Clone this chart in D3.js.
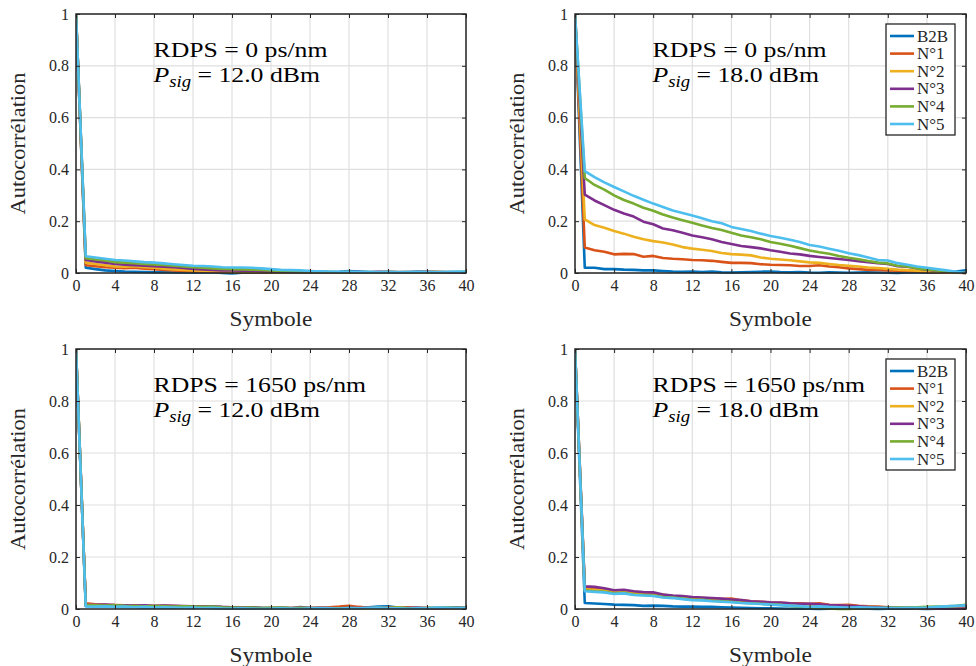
<!DOCTYPE html>
<html><head><meta charset="utf-8">
<script src="https://cdn.jsdelivr.net/npm/d3@7"></script>
<style>body{margin:0;background:#fff;} svg{display:block;}</style>
</head><body>
<script>
const lags = d3.range(0, 41);
const xTicks = [0,4,8,12,16,20,24,28,32,36,40];
const yTicks = [0,0.2,0.4,0.6,0.8,1];
const yTickLabels = ["0","0.2","0.4","0.6","0.8","1"];
const seriesNames = ["B2B","N°1","N°2","N°3","N°4","N°5"];
const seriesColors = ["#0072BD","#D95319","#EDB120","#7E2F8E","#77AC30","#4DBEEE"];
const xLabel = "Symbole";
const yLabel = "Autocorrélation";

// Panel 1: RDPS = 0 ps/nm, Psig = 12.0 dBm
const p1_B2B = [1,0.020,0.015,0.010,0.008,0.006,0.005,0.004,0.003,0.004,0.002,0.002,0.001,0.002,0.003,0.000,-0.002,0.001,0.002,0.001,0.002,0.001,0.003,0.002,0.004,0.003,0.003,0.005,0.008,0.006,0.004,0.003,0.002,0.003,0.002,0.005,0.004,0.003,0.002,0.003,0.004];
const p1_N1 = [1,0.030,0.026,0.022,0.020,0.019,0.020,0.017,0.015,0.012,0.010,0.008,0.006,0.006,0.005,0.004,0.003,0.004,0.003,0.002,0.002,0.003,0.004,0.005,0.008,0.006,0.004,0.003,0.004,0.002,0.003,0.004,0.005,0.004,0.003,0.004,0.006,0.005,0.004,0.003,0.002];
const p1_N2 = [1,0.040,0.035,0.030,0.025,0.024,0.026,0.022,0.020,0.017,0.014,0.012,0.010,0.009,0.008,0.007,0.005,0.005,0.004,0.004,0.003,0.002,0.003,0.003,0.002,0.003,0.002,0.001,0.002,0.003,0.002,0.003,0.004,0.003,0.002,0.003,0.004,0.003,0.002,0.001,0.002];
const p1_N3 = [1,0.050,0.045,0.040,0.035,0.032,0.030,0.028,0.026,0.024,0.022,0.019,0.016,0.014,0.012,0.010,0.010,0.009,0.009,0.007,0.006,0.005,0.004,0.004,0.003,0.004,0.003,0.002,0.003,0.004,0.003,0.005,0.004,0.003,0.004,0.005,0.004,0.003,0.002,0.003,0.002];
const p1_N4 = [1,0.057,0.052,0.048,0.042,0.040,0.038,0.035,0.033,0.031,0.028,0.025,0.022,0.020,0.018,0.016,0.015,0.014,0.013,0.012,0.010,0.008,0.007,0.006,0.005,0.004,0.004,0.003,0.004,0.003,0.004,0.003,0.004,0.003,0.004,0.004,0.003,0.004,0.003,0.004,0.005];
const p1_N5 = [1,0.065,0.060,0.055,0.050,0.048,0.045,0.042,0.040,0.037,0.034,0.031,0.028,0.027,0.025,0.022,0.021,0.021,0.020,0.018,0.015,0.012,0.011,0.010,0.008,0.007,0.006,0.005,0.005,0.004,0.005,0.004,0.005,0.004,0.004,0.005,0.005,0.004,0.005,0.006,0.005];

// Panel 2: RDPS = 0 ps/nm, Psig = 18.0 dBm
const p2_B2B = [1,0.020,0.020,0.015,0.015,0.013,0.012,0.010,0.010,0.008,0.006,0.005,0.006,0.004,0.006,0.003,0.002,0.003,0.004,0.005,0.006,0.004,0.003,0.004,0.002,0.001,0.003,0.002,0.001,0.002,0.003,0.002,0.001,0.000,0.002,0.003,0.001,0.002,0.004,0.006,0.010];
const p2_N1 = [1,0.098,0.088,0.082,0.072,0.074,0.073,0.063,0.066,0.058,0.055,0.053,0.050,0.049,0.047,0.043,0.039,0.039,0.038,0.034,0.032,0.031,0.030,0.027,0.027,0.030,0.025,0.022,0.018,0.015,0.012,0.012,0.010,0.009,0.008,0.006,0.004,0.003,0.002,0.001,0.000];
const p2_N2 = [1,0.207,0.185,0.175,0.162,0.152,0.140,0.130,0.123,0.118,0.110,0.100,0.094,0.090,0.085,0.077,0.073,0.071,0.068,0.060,0.055,0.052,0.049,0.045,0.041,0.039,0.035,0.031,0.028,0.025,0.021,0.019,0.016,0.013,0.011,0.009,0.007,0.005,0.003,0.002,0.000];
const p2_N3 = [1,0.303,0.280,0.262,0.244,0.230,0.218,0.198,0.188,0.172,0.165,0.155,0.145,0.138,0.130,0.120,0.112,0.104,0.100,0.095,0.088,0.082,0.075,0.072,0.066,0.062,0.058,0.054,0.050,0.046,0.042,0.038,0.035,0.026,0.024,0.018,0.013,0.009,0.006,0.003,0.000];
const p2_N4 = [1,0.367,0.340,0.322,0.300,0.282,0.268,0.252,0.240,0.226,0.214,0.204,0.194,0.183,0.174,0.166,0.155,0.145,0.138,0.130,0.120,0.113,0.105,0.096,0.087,0.080,0.074,0.066,0.059,0.053,0.046,0.040,0.037,0.028,0.025,0.018,0.014,0.010,0.006,0.003,0.000];
const p2_N5 = [1,0.393,0.370,0.350,0.332,0.315,0.298,0.283,0.268,0.255,0.241,0.232,0.222,0.211,0.200,0.192,0.178,0.170,0.162,0.152,0.143,0.136,0.128,0.120,0.108,0.102,0.094,0.086,0.076,0.069,0.060,0.050,0.048,0.038,0.032,0.025,0.020,0.015,0.010,0.005,0.000];

// Panel 3: RDPS = 1650 ps/nm, Psig = 12.0 dBm
const p3_B2B = [1,0.012,0.010,0.010,0.009,0.008,0.008,0.006,0.007,0.005,0.006,0.005,0.004,0.006,0.004,0.003,0.002,0.003,0.002,0.004,0.003,0.005,0.003,0.008,0.004,0.003,0.005,0.004,0.006,0.005,0.007,0.009,0.010,0.006,0.004,0.005,0.003,0.004,0.005,0.006,0.005];
const p3_N1 = [1,0.022,0.018,0.016,0.015,0.014,0.013,0.012,0.010,0.012,0.011,0.010,0.009,0.010,0.008,0.007,0.006,0.005,0.004,0.003,0.004,0.003,0.004,0.005,0.004,0.006,0.007,0.009,0.012,0.008,0.005,0.004,0.006,0.005,0.007,0.004,0.003,0.004,0.003,0.004,0.005];
const p3_N2 = [1,0.018,0.016,0.015,0.014,0.013,0.012,0.010,0.011,0.009,0.010,0.008,0.009,0.007,0.006,0.007,0.005,0.004,0.005,0.003,0.004,0.002,0.003,0.004,0.003,0.005,0.004,0.003,0.002,0.004,0.003,0.005,0.004,0.006,0.003,0.004,0.005,0.003,0.002,0.003,0.004];
const p3_N3 = [1,0.016,0.016,0.017,0.015,0.014,0.013,0.014,0.012,0.013,0.012,0.011,0.010,0.009,0.010,0.008,0.007,0.006,0.007,0.005,0.004,0.005,0.004,0.003,0.004,0.005,0.004,0.003,0.005,0.004,0.006,0.005,0.004,0.003,0.004,0.005,0.004,0.003,0.004,0.005,0.004];
const p3_N4 = [1,0.015,0.014,0.013,0.014,0.012,0.011,0.010,0.011,0.010,0.009,0.010,0.009,0.008,0.009,0.007,0.006,0.005,0.006,0.004,0.005,0.006,0.004,0.003,0.004,0.003,0.002,0.003,0.004,0.003,0.004,0.005,0.004,0.006,0.004,0.003,0.004,0.005,0.006,0.005,0.004];
const p3_N5 = [1,0.010,0.009,0.010,0.008,0.009,0.007,0.008,0.006,0.007,0.006,0.005,0.006,0.004,0.005,0.003,0.002,0.003,0.002,0.001,0.002,0.003,0.002,0.001,0.003,0.004,0.003,0.002,0.004,0.003,0.005,0.006,0.004,0.003,0.002,0.003,0.004,0.006,0.005,0.004,0.005];

// Panel 4: RDPS = 1650 ps/nm, Psig = 18.0 dBm
const p4_B2B = [1,0.023,0.021,0.019,0.017,0.016,0.015,0.012,0.013,0.012,0.010,0.009,0.009,0.008,0.008,0.007,0.006,0.005,0.004,0.003,0.003,0.002,0.001,0.002,0.001,0.000,0.001,0.002,0.001,0.002,0.001,0.000,0.001,0.002,0.001,0.001,0.000,0.001,0.002,0.003,0.006];
const p4_N1 = [1,0.080,0.078,0.075,0.070,0.068,0.066,0.060,0.058,0.055,0.050,0.047,0.044,0.042,0.040,0.038,0.040,0.034,0.030,0.028,0.025,0.024,0.022,0.022,0.020,0.022,0.016,0.015,0.016,0.012,0.010,0.009,0.007,0.006,0.005,0.004,0.003,0.002,0.002,0.003,0.004];
const p4_N2 = [1,0.076,0.074,0.071,0.066,0.065,0.062,0.057,0.055,0.051,0.047,0.044,0.041,0.039,0.037,0.035,0.033,0.031,0.028,0.026,0.024,0.022,0.020,0.019,0.017,0.016,0.014,0.013,0.011,0.010,0.008,0.007,0.006,0.005,0.004,0.003,0.003,0.002,0.002,0.002,0.003];
const p4_N3 = [1,0.087,0.085,0.080,0.072,0.074,0.068,0.065,0.064,0.056,0.052,0.050,0.046,0.044,0.042,0.040,0.036,0.034,0.030,0.028,0.026,0.025,0.022,0.020,0.020,0.018,0.015,0.014,0.012,0.010,0.008,0.007,0.006,0.005,0.004,0.004,0.003,0.002,0.001,0.001,0.002];
const p4_N4 = [1,0.072,0.068,0.066,0.060,0.062,0.056,0.054,0.052,0.046,0.044,0.040,0.036,0.035,0.032,0.030,0.028,0.024,0.022,0.020,0.018,0.016,0.012,0.010,0.006,0.004,0.002,0.000,0.000,0.002,0.003,0.004,0.005,0.006,0.006,0.007,0.008,0.009,0.010,0.012,0.016];
const p4_N5 = [1,0.068,0.066,0.064,0.058,0.060,0.054,0.052,0.050,0.044,0.042,0.038,0.034,0.033,0.030,0.028,0.026,0.023,0.021,0.019,0.017,0.015,0.013,0.011,0.008,0.010,0.008,0.007,0.006,0.007,0.006,0.005,0.004,0.004,0.005,0.005,0.006,0.008,0.010,0.012,0.014];

const rdpsLabels = ["RDPS = 0 ps/nm","RDPS = 0 ps/nm","RDPS = 1650 ps/nm","RDPS = 1650 ps/nm"];
const psigValues = ["12.0","18.0","12.0","18.0"];
const showLegend = [false,true,false,true];

const panelsData = [
  [p1_B2B,p1_N1,p1_N2,p1_N3,p1_N4,p1_N5],
  [p2_B2B,p2_N1,p2_N2,p2_N3,p2_N4,p2_N5],
  [p3_B2B,p3_N1,p3_N2,p3_N3,p3_N4,p3_N5],
  [p4_B2B,p4_N1,p4_N2,p4_N3,p4_N4,p4_N5]
];

const W = 976, H = 666;
const FONT = "'Liberation Serif', 'DejaVu Serif', serif";
const axColor = "#262626";
const svg = d3.select("body").append("svg").attr("width", W).attr("height", H)
  .style("font-family", FONT);

const boxes = [
  {x0:76, x1:466, y0:14, y1:273},
  {x0:575, x1:966, y0:14, y1:273},
  {x0:76, x1:466, y0:349, y1:609},
  {x0:575, x1:966, y0:349, y1:609}
];

boxes.forEach((b, i) => {
  const x = d3.scaleLinear().domain([0,40]).range([b.x0, b.x1]);
  const y = d3.scaleLinear().domain([0,1]).range([b.y1, b.y0]);
  const g = svg.append("g");
  g.append("rect").attr("x", b.x0).attr("y", b.y0).attr("width", b.x1-b.x0).attr("height", b.y1-b.y0).attr("fill", "#fff");
  // grid
  g.append("g").selectAll("line").data(xTicks).join("line")
    .attr("x1", d=>x(d)).attr("x2", d=>x(d)).attr("y1", b.y0).attr("y2", b.y1)
    .attr("stroke", "#dfdfdf").attr("stroke-width", 1.2);
  g.append("g").selectAll("line").data(yTicks).join("line")
    .attr("y1", d=>y(d)).attr("y2", d=>y(d)).attr("x1", b.x0).attr("x2", b.x1)
    .attr("stroke", "#dfdfdf").attr("stroke-width", 1.2);

  // lines
  const clipId = "clip"+i;
  svg.append("clipPath").attr("id", clipId).append("rect")
    .attr("x", b.x0).attr("y", b.y0-2).attr("width", b.x1-b.x0).attr("height", b.y1-b.y0+4);
  const line = d3.line().x((d,k)=>x(lags[k])).y(d=>y(d));
  const lg = g.append("g").attr("clip-path", `url(#${clipId})`);
  panelsData[i].forEach((s, k) => {
    lg.append("path").attr("d", line(s)).attr("fill","none")
      .attr("stroke", seriesColors[k]).attr("stroke-width", 2.6)
      .attr("stroke-linejoin","round");
  });

  // axes (ticks inside)
  const tl = 4;
  const axB = d3.axisBottom(x).tickValues(xTicks).tickSize(-tl).tickPadding(7).tickFormat(d=>d);
  const axT = d3.axisTop(x).tickValues(xTicks).tickSize(-tl).tickFormat("");
  const axL = d3.axisLeft(y).tickValues(yTicks).tickSize(-tl).tickPadding(7).tickFormat((d,j)=>yTickLabels[j]);
  const axR = d3.axisRight(y).tickValues(yTicks).tickSize(-tl).tickFormat("");
  const style = sel => {
    sel.attr("font-family", null).attr("font-size", null);
    sel.select(".domain").remove();
    sel.selectAll("line").attr("stroke", axColor).attr("stroke-width", 1);
    sel.selectAll("text").style("font-family", FONT).style("font-size", "16px").attr("fill", axColor);
  };
  g.append("g").attr("transform", `translate(0,${b.y1})`).call(axB).call(style);
  g.append("g").attr("transform", `translate(0,${b.y0})`).call(axT).call(style);
  g.append("g").attr("transform", `translate(${b.x0},0)`).call(axL).call(style);
  g.append("g").attr("transform", `translate(${b.x1},0)`).call(axR).call(style);
  g.append("rect").attr("x", b.x0).attr("y", b.y0).attr("width", b.x1-b.x0).attr("height", b.y1-b.y0)
    .attr("fill","none").attr("stroke", axColor).attr("stroke-width", 1.5);

  // axis labels
  g.append("text").attr("transform", `translate(${(b.x0+b.x1)/2},${b.y1+53}) scale(1.06,1)`).attr("text-anchor","middle")
    .style("font-family", FONT).style("font-size", "22px").attr("fill", axColor).text(xLabel);
  g.append("text").attr("transform", `translate(${b.x0-51},${(b.y0+b.y1)/2}) rotate(-90) scale(1.02,1)`)
    .attr("text-anchor","middle").style("font-family", FONT).style("font-size", "22px").attr("fill", axColor).text(yLabel);

  // annotation
  const ax = x(2), ay = b.y0 + 43;
  const ag = g.append("g").attr("transform", `translate(${ax + 58},${ay}) scale(1.17,1)`);
  ag.append("text").attr("x", 0).attr("y", 0).style("font-family", FONT).style("font-size", "22px")
    .attr("fill","#000").text(rdpsLabels[i]);
  const t2 = ag.append("text").attr("x", 0).attr("y", 25).style("font-family", FONT).style("font-size", "22px").attr("fill","#000");
  t2.append("tspan").style("font-style","italic").text("P");
  t2.append("tspan").style("font-style","italic").style("font-size", "16px").attr("dy", 5).text("sig");
  t2.append("tspan").attr("dy", -5).text(" = " + psigValues[i] + " dBm");

  // legend
  if (showLegend[i]) {
    const lx0 = b.x1 - 80, ly0 = b.y0 + 10;
    const leg = g.append("g");
    leg.append("rect").attr("x", lx0).attr("y", ly0).attr("width", 69).attr("height", 111)
      .attr("fill","#fff").attr("stroke", axColor).attr("stroke-width", 1.3);
    seriesNames.forEach((n, k) => {
      const yy = ly0 + 12 + k*17.6;
      leg.append("line").attr("x1", lx0+4).attr("x2", lx0+28).attr("y1", yy).attr("y2", yy)
        .attr("stroke", seriesColors[k]).attr("stroke-width", 2.6);
      leg.append("text").attr("x", lx0+31).attr("y", yy+5.5).style("font-family", FONT).style("font-size", "17px")
        .attr("fill", axColor).text(n);
    });
  }
});
</script>
</body></html>
